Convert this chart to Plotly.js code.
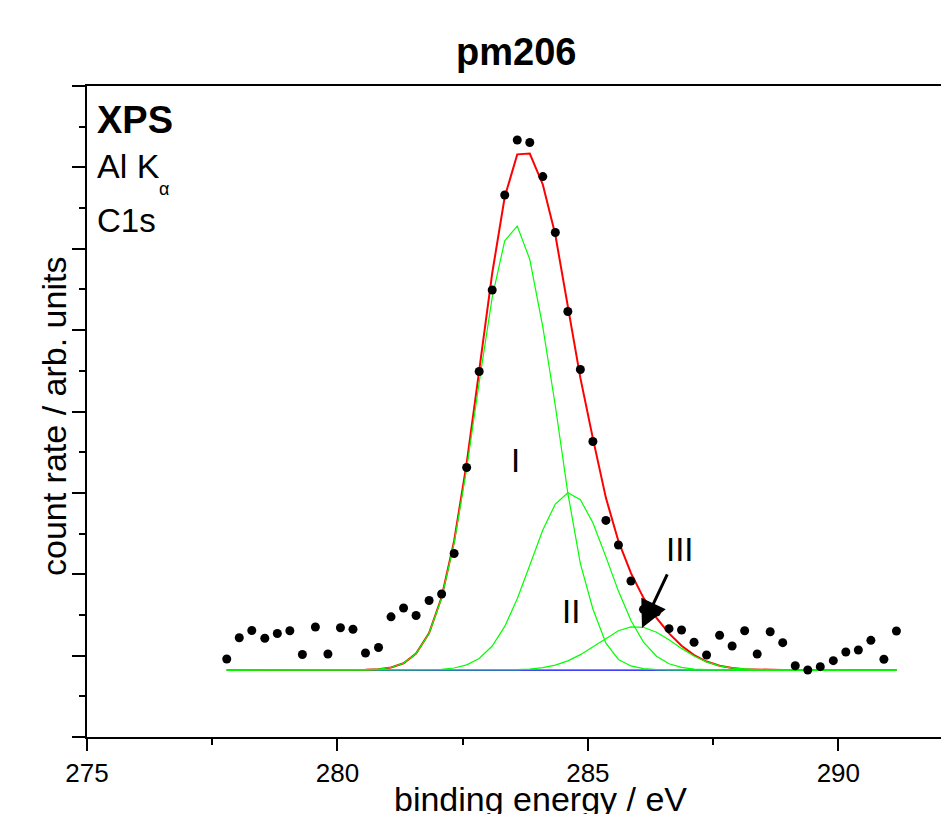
<!DOCTYPE html>
<html><head><meta charset="utf-8">
<script src="https://cdn.plot.ly/plotly-3.0.1.min.js"></script>
<style>html,body{margin:0;padding:0;background:#fff}#chart{width:941px;height:814px}</style>
</head><body><div id="chart"></div>
<script>
// binding energy (eV) of each measured channel
const energy = [277.79,278.04,278.29,278.55,278.80,279.05,279.30,279.56,279.81,280.06,
  280.31,280.56,280.82,281.07,281.32,281.57,281.83,282.08,282.33,282.58,
  282.83,283.09,283.34,283.59,283.84,284.10,284.35,284.60,284.85,285.10,
  285.36,285.61,285.86,286.11,286.37,286.62,286.87,287.12,287.37,287.63,
  287.88,288.13,288.38,288.64,288.89,289.14,289.39,289.64,289.90,290.15,
  290.40,290.65,290.91,291.16];
// measured count rate (arb. units)
const counts = [0.959,1.220,1.309,1.213,1.272,1.306,1.014,1.352,1.020,1.343,
  1.324,1.032,1.100,1.477,1.585,1.493,1.677,1.757,2.255,3.312,
  4.492,5.493,6.661,7.336,7.306,6.887,6.200,5.229,4.516,3.631,
  2.662,2.359,1.917,1.569,1.536,1.331,1.315,1.164,1.008,1.250,
  1.118,1.306,1.020,1.294,1.159,0.876,0.823,0.864,0.938,1.045,
  1.069,1.188,0.955,1.303];
// fit envelope
const envelope = [0.823,0.823,0.823,0.823,0.823,0.823,0.823,0.823,0.823,0.823,
  0.824,0.826,0.833,0.854,0.906,1.025,1.278,1.717,2.409,3.362,
  4.501,5.699,6.636,7.160,7.170,6.790,6.171,5.288,4.413,3.670,
  2.939,2.406,2.013,1.710,1.463,1.273,1.121,1.007,0.927,0.875,
  0.847,0.833,0.827,0.824,0.823,0.823,0.823,0.823,0.823,0.823,
  0.823,0.823,0.823,0.823];
// component I
const peakI = [0.823,0.823,0.823,0.823,0.823,0.823,0.823,0.823,0.823,0.823,
  0.824,0.826,0.833,0.854,0.906,1.024,1.275,1.708,2.384,3.299,
  4.359,5.403,6.098,6.279,5.870,5.041,4.071,2.998,2.131,1.573,
  1.153,0.953,0.873,0.841,0.829,0.825,0.823,0.823,0.823,0.823,
  0.823,0.823,0.823,0.823,0.823,0.823,0.823,0.823,0.823,0.823,
  0.823,0.823,0.823,0.823];
// component II
const peakII = [0.823,0.823,0.823,0.823,0.823,0.823,0.823,0.823,0.823,0.823,
  0.823,0.823,0.823,0.823,0.823,0.824,0.826,0.832,0.848,0.886,
  0.965,1.118,1.359,1.699,2.111,2.543,2.863,3.001,2.916,2.633,
  2.214,1.793,1.432,1.167,0.993,0.900,0.855,0.835,0.827,0.824,
  0.823,0.823,0.823,0.823,0.823,0.823,0.823,0.823,0.823,0.823,
  0.823,0.823,0.823,0.823];
// component III
const peakIII = [0.823,0.823,0.823,0.823,0.823,0.823,0.823,0.823,0.823,0.823,
  0.823,0.823,0.823,0.823,0.823,0.823,0.823,0.823,0.823,0.823,
  0.823,0.823,0.825,0.828,0.835,0.852,0.883,0.935,1.012,1.110,
  1.218,1.306,1.354,1.348,1.287,1.194,1.089,0.995,0.923,0.874,
  0.847,0.833,0.827,0.824,0.823,0.823,0.823,0.823,0.823,0.823,
  0.823,0.823,0.823,0.823];
// background
const background = [0.823,0.823,0.823,0.823,0.823,0.823,0.823,0.823,0.823,0.823,
  0.823,0.823,0.823,0.823,0.823,0.823,0.823,0.823,0.823,0.823,
  0.823,0.823,0.823,0.823,0.823,0.823,0.823,0.823,0.823,0.823,
  0.823,0.823,0.823,0.823,0.823,0.823,0.823,0.823,0.823,0.823,
  0.823,0.823,0.823,0.823,0.823,0.823,0.823,0.823,0.823,0.823,
  0.823,0.823,0.823,0.823];
const xTickVals = [275, 280, 285, 290];
const xTickText = ['275', '280', '285', '290'];

const F = 'Liberation Sans, Arial, Helvetica, sans-serif';
const line = (y, color, w) => ({x: energy, y: y, type: 'scatter', mode: 'lines',
  line: {color: color, width: w}, hoverinfo: 'skip'});
const traces = [
  line(background, '#0000ff', 1.3),
  line(envelope, '#ff0000', 2),
  line(peakI, '#00ff00', 1.2),
  line(peakII, '#00ff00', 1.2),
  line(peakIII, '#00ff00', 1.2),
  {x: energy, y: counts, type: 'scatter', mode: 'markers',
   marker: {color: '#000', size: 9}, cliponaxis: false}
];
function ann(text, px, py, size, extra) {
  return Object.assign({text: text, xref: 'paper', yref: 'paper',
    x: (px - 87) / 854, y: (737 - py) / 651, showarrow: false,
    xanchor: 'center', yanchor: 'middle',
    font: {family: F, size: size, color: '#000'}}, extra || {});
}
const layout = {
  width: 941, height: 814,
  margin: {l: 87, r: 0, t: 86, b: 77, pad: 0},
  paper_bgcolor: '#fff', plot_bgcolor: '#fff',
  showlegend: false,
  font: {family: F, color: '#000'},
  xaxis: {range: [275, 292.05], showgrid: false, zeroline: false,
    showline: true, linecolor: '#000', linewidth: 2, mirror: true,
    ticks: 'outside', ticklen: 12, tickwidth: 2, tickcolor: '#000',
    tickmode: 'array', tickvals: xTickVals, ticktext: xTickText,
    tickfont: {family: F, size: 26, color: '#000'},
    minor: {dtick: 2.5, tick0: 275, ticks: 'outside', ticklen: 6, tickwidth: 2, tickcolor: '#000', showgrid: false}},
  yaxis: {range: [0, 8], showgrid: false, zeroline: false, showticklabels: false,
    showline: true, linecolor: '#000', linewidth: 2,
    ticks: 'outside', ticklen: 13, tickwidth: 2, tickcolor: '#000', dtick: 1, tick0: 0,
    minor: {dtick: 0.5, ticks: 'outside', ticklen: 6, tickwidth: 2, tickcolor: '#000', showgrid: false}},
  annotations: [
    ann('<b>pm206</b>', 516, 52, 38),
    ann('<b>XPS</b>', 95, 119.5, 38, {xanchor: 'left'}),
    ann('Al K', 95, 165.5, 34, {xanchor: 'left'}),
    ann('α', 164, 189, 18),
    ann('C1s', 95, 220.5, 33, {xanchor: 'left'}),
    ann('I', 515, 460, 33),
    ann('II', 571, 611, 33),
    ann('III', 680, 549, 33),
    ann('count rate / arb. units', 54, 417, 34, {textangle: -90}),
    ann('binding energy / eV', 540, 799, 34),
    {x: 286.08, y: 1.34, xref: 'x', yref: 'y', text: '', showarrow: true,
     ax: 26, ay: -55, arrowhead: 2, arrowsize: 1.8, arrowwidth: 3, arrowcolor: '#000', standoff: 0}
  ]
};
Plotly.newPlot('chart', traces, layout, {staticPlot: true, displayModeBar: false});
</script>
</body></html>
